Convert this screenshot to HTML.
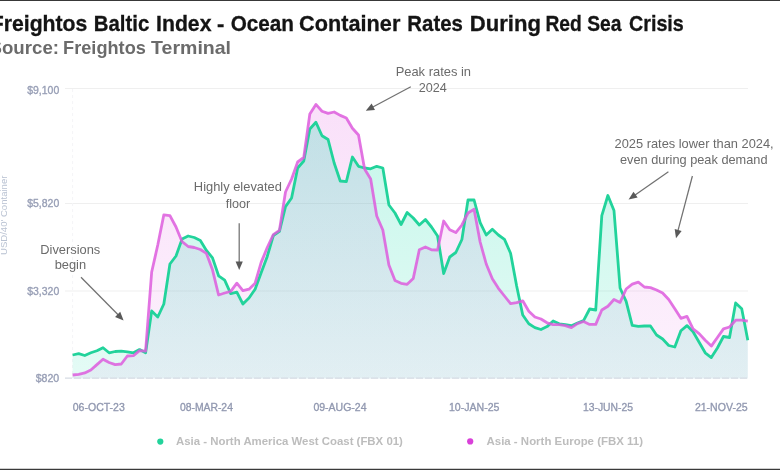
<!DOCTYPE html>
<html><head><meta charset="utf-8"><title>Freightos Baltic Index - Ocean Container Rates During Red Sea Crisis</title>
<style>
html,body{margin:0;padding:0;background:#fff;}
#wrap{position:relative;width:780px;height:470px;overflow:hidden;background:#fff;}
.topb{position:absolute;left:0;top:0;width:780px;height:1px;background:#383838;}
.botb{position:absolute;left:0;top:469px;width:780px;height:1px;background:#3a3a3a;}
.bot2{position:absolute;left:0;top:468px;width:780px;height:1px;background:#cfcfcf;}
svg text{font-family:"Liberation Sans",sans-serif;}
.ti{font-size:22px;font-weight:bold;fill:#141414;stroke:#141414;stroke-width:0.3px;}
.st{font-size:18.6px;font-weight:bold;fill:#6b6b6b;}
.grid{stroke:#efefef;stroke-width:1;}
.ann{font-size:13px;fill:#6b6b6b;}
.arr{stroke:#717171;stroke-width:1.25;}
.arh{fill:#595959;}
.yl{font-size:11px;fill:#979eb5;stroke:#979eb5;stroke-width:0.35px;}
.yt{font-size:9px;fill:#b9c2d2;}
.xl{font-size:11.6px;fill:#9198b0;stroke:#9198b0;stroke-width:0.35px;}
.lg{font-size:11.4px;font-weight:bold;fill:#bdbdbd;}
</style></head><body>
<div id="wrap">
<div class="topb"></div>
<svg width="780" height="470" viewBox="0 0 780 470" style="position:absolute;left:0;top:0">
<defs>
<linearGradient id="gg" gradientUnits="userSpaceOnUse" x1="0" y1="89" x2="0" y2="378">
<stop offset="0" stop-color="#14dcaa" stop-opacity="0.26"/><stop offset="1" stop-color="#14dcaa" stop-opacity="0.114"/></linearGradient>
<linearGradient id="pg" gradientUnits="userSpaceOnUse" x1="0" y1="89" x2="0" y2="378">
<stop offset="0" stop-color="#e887e8" stop-opacity="0.265"/><stop offset="1" stop-color="#e887e8" stop-opacity="0.114"/></linearGradient>
</defs>
<text x="-9.25" y="30.7" class="ti" textLength="96.62" lengthAdjust="spacingAndGlyphs">Freightos</text>
<text x="93.84" y="30.7" class="ti" textLength="55.46" lengthAdjust="spacingAndGlyphs">Baltic</text>
<text x="156.08" y="30.7" class="ti" textLength="55.37" lengthAdjust="spacingAndGlyphs">Index</text>
<text x="216.94" y="30.7" class="ti" textLength="7.34" lengthAdjust="spacingAndGlyphs">-</text>
<text x="230.65" y="30.7" class="ti" textLength="63.33" lengthAdjust="spacingAndGlyphs">Ocean</text>
<text x="299.11" y="30.7" class="ti" textLength="101.22" lengthAdjust="spacingAndGlyphs">Container</text>
<text x="407.34" y="30.7" class="ti" textLength="55.50" lengthAdjust="spacingAndGlyphs">Rates</text>
<text x="469.82" y="30.7" class="ti" textLength="71.15" lengthAdjust="spacingAndGlyphs">During</text>
<text x="545.41" y="30.7" class="ti" textLength="36.36" lengthAdjust="spacingAndGlyphs">Red</text>
<text x="587.15" y="30.7" class="ti" textLength="34.23" lengthAdjust="spacingAndGlyphs">Sea</text>
<text x="628.99" y="30.7" class="ti" textLength="54.82" lengthAdjust="spacingAndGlyphs">Crisis</text>
<text x="-10.47" y="53.8" class="st" textLength="69.47" lengthAdjust="spacingAndGlyphs">Source:</text>
<text x="63.08" y="53.8" class="st" textLength="82.76" lengthAdjust="spacingAndGlyphs">Freightos</text>
<text x="151.08" y="53.8" class="st" textLength="79.97" lengthAdjust="spacingAndGlyphs">Terminal</text>
<line x1="65" y1="88.5" x2="748" y2="88.5" class="grid"/>
<line x1="65" y1="203.5" x2="748" y2="203.5" class="grid"/>
<line x1="65" y1="291" x2="748" y2="291" class="grid"/>
<line x1="72.6" y1="89" x2="72.6" y2="378" stroke="#f4f4f7" stroke-width="1" stroke-dasharray="3 3"/>
<path d="M72.6 375 L78.68 374.3 L84.77 372.9 L90.85 370 L96.93 364.6 L103.01 359.2 L109.1 362.5 L115.18 364.6 L121.26 364 L127.35 356 L133.43 355.7 L139.51 350.6 L145.59 351.2 L151.68 272 L157.76 245 L163.84 214.8 L169.93 215.6 L176.01 227 L182.09 241.7 L188.17 246.5 L194.26 247.5 L200.34 249.5 L206.42 253.4 L212.51 269.8 L218.59 295 L224.67 293 L230.75 291.4 L236.84 283.2 L242.92 290.7 L249 289.2 L255.09 283.2 L261.17 262.4 L267.25 247.5 L273.34 234.7 L279.42 230.4 L285.5 192 L291.58 179 L297.67 162 L303.75 157.5 L309.83 114 L315.92 104.4 L322 111.2 L328.08 113.4 L334.16 112 L340.25 115.4 L346.33 118 L352.41 128.2 L358.5 135 L364.58 169 L370.66 179 L376.74 216 L382.83 230 L388.91 265 L394.99 280.5 L401.08 283.3 L407.16 284.3 L413.24 278.5 L419.32 249.8 L425.41 247 L431.49 249.8 L437.57 250 L443.66 221 L449.74 229.7 L455.82 232.6 L461.9 225 L467.99 213 L474.07 209.2 L480.15 242 L486.24 264 L492.32 278.7 L498.4 288.3 L504.48 296 L510.57 303.6 L516.65 302.7 L522.73 300.8 L528.82 311.3 L534.9 317 L540.98 319 L547.06 322.8 L553.15 324.7 L559.23 324.7 L565.31 325.7 L571.4 327.6 L577.48 323.6 L583.56 321.5 L589.65 324.4 L595.73 324.4 L601.81 310 L607.89 306.2 L613.98 299.5 L620.06 302.4 L626.14 289 L632.23 284.2 L638.31 282.2 L644.39 287 L650.47 287.6 L656.56 290 L662.64 293 L668.72 299.5 L674.81 308.7 L680.89 318.3 L686.97 316.4 L693.05 328.9 L699.14 333.6 L705.22 340.3 L711.3 346.1 L717.39 337.5 L723.47 328.9 L729.55 327 L735.63 320.2 L741.72 320.2 L747.8 321.2 L747.8 378.5 L72.6 378.5Z" fill="url(#pg)"/>
<path d="M72.6 355 L78.68 353.7 L84.77 355.5 L90.85 352.8 L96.93 350.7 L103.01 347.7 L109.1 352.8 L115.18 351.5 L121.26 351.2 L127.35 351.8 L133.43 352.8 L139.51 349.6 L145.59 352.8 L151.68 311 L157.76 317 L163.84 304 L169.93 264 L176.01 256 L182.09 239 L188.17 236 L194.26 237.5 L200.34 240.5 L206.42 250.4 L212.51 257.9 L218.59 275.8 L224.67 280.2 L230.75 293.6 L236.84 292.2 L242.92 304 L249 298 L255.09 289.2 L261.17 272.8 L267.25 256.4 L273.34 235.5 L279.42 231.3 L285.5 206.6 L291.58 198 L297.67 168 L303.75 161 L309.83 129 L315.92 122.2 L322 135.8 L328.08 139.5 L334.16 163 L340.25 181 L346.33 181.6 L352.41 157 L358.5 166.3 L364.58 168 L370.66 168.8 L376.74 166.3 L382.83 168 L388.91 205 L394.99 213 L401.08 224.5 L407.16 212.5 L413.24 218 L419.32 225 L425.41 219.5 L431.49 227 L437.57 236 L443.66 273.5 L449.74 257 L455.82 252.5 L461.9 239.5 L467.99 200 L474.07 200 L480.15 222.6 L486.24 235 L492.32 229.3 L498.4 235 L504.48 239.4 L510.57 253.2 L516.65 286 L522.73 315 L528.82 323.8 L534.9 327.6 L540.98 329.5 L547.06 326.6 L553.15 321 L559.23 323.8 L565.31 324.7 L571.4 325.7 L577.48 323 L583.56 320.6 L589.65 309 L595.73 310 L601.81 215.7 L607.89 195.5 L613.98 210.5 L620.06 288 L626.14 301.4 L632.23 325.3 L638.31 326.3 L644.39 326 L650.47 326 L656.56 335 L662.64 339 L668.72 345.5 L674.81 347 L680.89 330.8 L686.97 325.6 L693.05 331.7 L699.14 342.3 L705.22 352.8 L711.3 357.6 L717.39 348 L723.47 336.5 L729.55 337.5 L735.63 303 L741.72 308.7 L747.8 340.3 L747.8 378.5 L72.6 378.5Z" fill="url(#gg)"/>
<line x1="65" y1="378.2" x2="748" y2="378.2" stroke="#d6dbe4" stroke-width="1.2" stroke-dasharray="7 2"/>
<path d="M72.6 355 L78.68 353.7 L84.77 355.5 L90.85 352.8 L96.93 350.7 L103.01 347.7 L109.1 352.8 L115.18 351.5 L121.26 351.2 L127.35 351.8 L133.43 352.8 L139.51 349.6 L145.59 352.8 L151.68 311 L157.76 317 L163.84 304 L169.93 264 L176.01 256 L182.09 239 L188.17 236 L194.26 237.5 L200.34 240.5 L206.42 250.4 L212.51 257.9 L218.59 275.8 L224.67 280.2 L230.75 293.6 L236.84 292.2 L242.92 304 L249 298 L255.09 289.2 L261.17 272.8 L267.25 256.4 L273.34 235.5 L279.42 231.3 L285.5 206.6 L291.58 198 L297.67 168 L303.75 161 L309.83 129 L315.92 122.2 L322 135.8 L328.08 139.5 L334.16 163 L340.25 181 L346.33 181.6 L352.41 157 L358.5 166.3 L364.58 168 L370.66 168.8 L376.74 166.3 L382.83 168 L388.91 205 L394.99 213 L401.08 224.5 L407.16 212.5 L413.24 218 L419.32 225 L425.41 219.5 L431.49 227 L437.57 236 L443.66 273.5 L449.74 257 L455.82 252.5 L461.9 239.5 L467.99 200 L474.07 200 L480.15 222.6 L486.24 235 L492.32 229.3 L498.4 235 L504.48 239.4 L510.57 253.2 L516.65 286 L522.73 315 L528.82 323.8 L534.9 327.6 L540.98 329.5 L547.06 326.6 L553.15 321 L559.23 323.8 L565.31 324.7 L571.4 325.7 L577.48 323 L583.56 320.6 L589.65 309 L595.73 310 L601.81 215.7 L607.89 195.5 L613.98 210.5 L620.06 288 L626.14 301.4 L632.23 325.3 L638.31 326.3 L644.39 326 L650.47 326 L656.56 335 L662.64 339 L668.72 345.5 L674.81 347 L680.89 330.8 L686.97 325.6 L693.05 331.7 L699.14 342.3 L705.22 352.8 L711.3 357.6 L717.39 348 L723.47 336.5 L729.55 337.5 L735.63 303 L741.72 308.7 L747.8 340.3" fill="none" stroke="#22d39b" stroke-width="2.8" stroke-linejoin="round" stroke-linecap="butt"/>
<path d="M72.6 375 L78.68 374.3 L84.77 372.9 L90.85 370 L96.93 364.6 L103.01 359.2 L109.1 362.5 L115.18 364.6 L121.26 364 L127.35 356 L133.43 355.7 L139.51 350.6 L145.59 351.2 L151.68 272 L157.76 245 L163.84 214.8 L169.93 215.6 L176.01 227 L182.09 241.7 L188.17 246.5 L194.26 247.5 L200.34 249.5 L206.42 253.4 L212.51 269.8 L218.59 295 L224.67 293 L230.75 291.4 L236.84 283.2 L242.92 290.7 L249 289.2 L255.09 283.2 L261.17 262.4 L267.25 247.5 L273.34 234.7 L279.42 230.4 L285.5 192 L291.58 179 L297.67 162 L303.75 157.5 L309.83 114 L315.92 104.4 L322 111.2 L328.08 113.4 L334.16 112 L340.25 115.4 L346.33 118 L352.41 128.2 L358.5 135 L364.58 169 L370.66 179 L376.74 216 L382.83 230 L388.91 265 L394.99 280.5 L401.08 283.3 L407.16 284.3 L413.24 278.5 L419.32 249.8 L425.41 247 L431.49 249.8 L437.57 250 L443.66 221 L449.74 229.7 L455.82 232.6 L461.9 225 L467.99 213 L474.07 209.2 L480.15 242 L486.24 264 L492.32 278.7 L498.4 288.3 L504.48 296 L510.57 303.6 L516.65 302.7 L522.73 300.8 L528.82 311.3 L534.9 317 L540.98 319 L547.06 322.8 L553.15 324.7 L559.23 324.7 L565.31 325.7 L571.4 327.6 L577.48 323.6 L583.56 321.5 L589.65 324.4 L595.73 324.4 L601.81 310 L607.89 306.2 L613.98 299.5 L620.06 302.4 L626.14 289 L632.23 284.2 L638.31 282.2 L644.39 287 L650.47 287.6 L656.56 290 L662.64 293 L668.72 299.5 L674.81 308.7 L680.89 318.3 L686.97 316.4 L693.05 328.9 L699.14 333.6 L705.22 340.3 L711.3 346.1 L717.39 337.5 L723.47 328.9 L729.55 327 L735.63 320.2 L741.72 320.2 L747.8 321.2" fill="none" stroke="#dd5cdd" stroke-width="2.8" stroke-linejoin="round" stroke-linecap="butt" stroke-opacity="0.85"/>
<text x="27.19" y="94.3" class="yl" textLength="32.02" lengthAdjust="spacingAndGlyphs">$9,100</text>
<text x="27.19" y="206.6" class="yl" textLength="32.02" lengthAdjust="spacingAndGlyphs">$5,820</text>
<text x="27.19" y="294.6" class="yl" textLength="32.02" lengthAdjust="spacingAndGlyphs">$3,320</text>
<text x="35.69" y="382.2" class="yl" textLength="23.53" lengthAdjust="spacingAndGlyphs">$820</text>
<text transform="translate(7.2 254.3) rotate(-90)" x="-0.74" y="0" class="yt" textLength="79.50" lengthAdjust="spacingAndGlyphs">USD/40' Container</text>
<text x="72.79" y="410.6" class="xl" textLength="51.96" lengthAdjust="spacingAndGlyphs">06-OCT-23</text>
<text x="179.90" y="410.6" class="xl" textLength="53.01" lengthAdjust="spacingAndGlyphs">08-MAR-24</text>
<text x="313.39" y="410.6" class="xl" textLength="53.12" lengthAdjust="spacingAndGlyphs">09-AUG-24</text>
<text x="448.89" y="410.6" class="xl" textLength="50.55" lengthAdjust="spacingAndGlyphs">10-JAN-25</text>
<text x="583.01" y="410.6" class="xl" textLength="50.02" lengthAdjust="spacingAndGlyphs">13-JUN-25</text>
<text x="694.88" y="410.6" class="xl" textLength="52.76" lengthAdjust="spacingAndGlyphs">21-NOV-25</text>
<text x="395.64" y="76.4" class="ann" textLength="75.40" lengthAdjust="spacingAndGlyphs">Peak rates in</text>
<text x="418.76" y="92.2" class="ann" textLength="28.11" lengthAdjust="spacingAndGlyphs">2024</text>
<text x="193.84" y="191.4" class="ann" textLength="88.09" lengthAdjust="spacingAndGlyphs">Highly elevated</text>
<text x="225.72" y="207.9" class="ann" textLength="24.59" lengthAdjust="spacingAndGlyphs">floor</text>
<text x="40.25" y="253.5" class="ann" textLength="60.02" lengthAdjust="spacingAndGlyphs">Diversions</text>
<text x="54.67" y="269.2" class="ann" textLength="31.46" lengthAdjust="spacingAndGlyphs">begin</text>
<text x="614.55" y="148.4" class="ann" textLength="159.10" lengthAdjust="spacingAndGlyphs">2025 rates lower than 2024,</text>
<text x="619.96" y="164" class="ann" textLength="147.56" lengthAdjust="spacingAndGlyphs">even during peak demand</text>
<line x1="410.8" y1="86.8" x2="372.42" y2="107.27" class="arr"/><polygon points="365.8,110.8 371.61,103.62 374.99,109.98" class="arh"/>
<line x1="239.2" y1="223.3" x2="239.2" y2="262.5" class="arr"/><polygon points="239.2,270 235.6,261.5 242.8,261.5" class="arh"/>
<line x1="81" y1="277.2" x2="118.33" y2="315.06" class="arr"/><polygon points="123.6,320.4 115.07,316.88 120.2,311.82" class="arh"/>
<line x1="668.4" y1="171.7" x2="634.75" y2="195.21" class="arr"/><polygon points="628.6,199.5 633.51,191.68 637.63,197.58" class="arh"/>
<line x1="692.4" y1="176" x2="677.91" y2="230.95" class="arr"/><polygon points="676,238.2 674.69,229.06 681.65,230.9" class="arh"/>
<circle cx="160.3" cy="441.6" r="3.1" fill="#22d39b"/>
<text x="176.02" y="445.3" class="lg" textLength="226.85" lengthAdjust="spacingAndGlyphs">Asia - North America West Coast (FBX 01)</text>
<circle cx="470.2" cy="441.4" r="3.1" fill="#d940d9"/>
<text x="486.52" y="445.3" class="lg" textLength="156.45" lengthAdjust="spacingAndGlyphs">Asia - North Europe (FBX 11)</text>
</svg>
<div class="bot2"></div><div class="botb"></div>
</div>
</body></html>
